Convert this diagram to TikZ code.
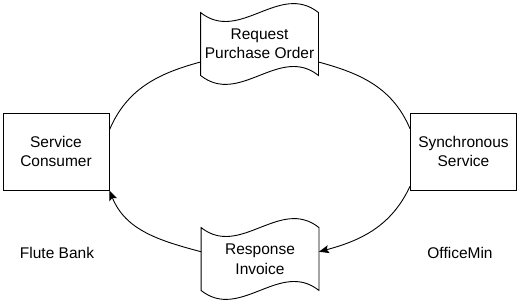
\documentclass[tikz,border=0pt]{standalone}
\usepackage{fontspec}
\setmainfont{Liberation Sans}
\usetikzlibrary{arrows.meta}
\begin{document}
\begin{tikzpicture}[>={Stealth[length=10pt,width=8pt,inset=2pt]}, x=1pt, y=1pt, line width=0.9pt,
	font=\fontsize{15.5}{19.5}\selectfont,
	svcbox/.style={draw, align=center, minimum width=106, minimum height=77},
	docbox/.style={align=center, minimum width=117, minimum height=62}]
	
	\useasboundingbox (0,0) rectangle (520,304);
	
	% 1. Hai hộp dịch vụ
	\node[svcbox] (consumer) at (56,152.5) {Service\\Consumer};
	\node[svcbox] (sync) at (463.5,152.5) {Synchronous\\Service};
	
	% 2. Hai tài liệu (viền lượn sóng)
	\node[docbox] (req) at (259.5,260) {Request\\Purchase Order};
	\node[docbox] (resp) at (260,45) {Response\\Invoice};
	\foreach \d in {req,resp}
		\draw (\d.north west) .. controls +(39,-31) and +(-39,31) .. (\d.north east)
			-- (\d.south east) .. controls +(-39,31) and +(39,-31) .. (\d.south west) -- cycle;
	
	% 3. Nhãn bên dưới
	\node (bank) at (57,51) {Flute Bank};
	\node (office) at (460,51) {OfficeMin};
	
	% 4. Các cung của vòng elip
	\draw (consumer.22) to[out=67, in=195] (req.197);
	\draw (req.-17) to[out=-15, in=113] (sync.157);
	\draw[->] (sync.213) to[out=245, in=15] (resp.7);
	\draw[->] (resp.173) to[out=165, in=-68] (consumer.south east);
	
\end{tikzpicture}
\end{document}
